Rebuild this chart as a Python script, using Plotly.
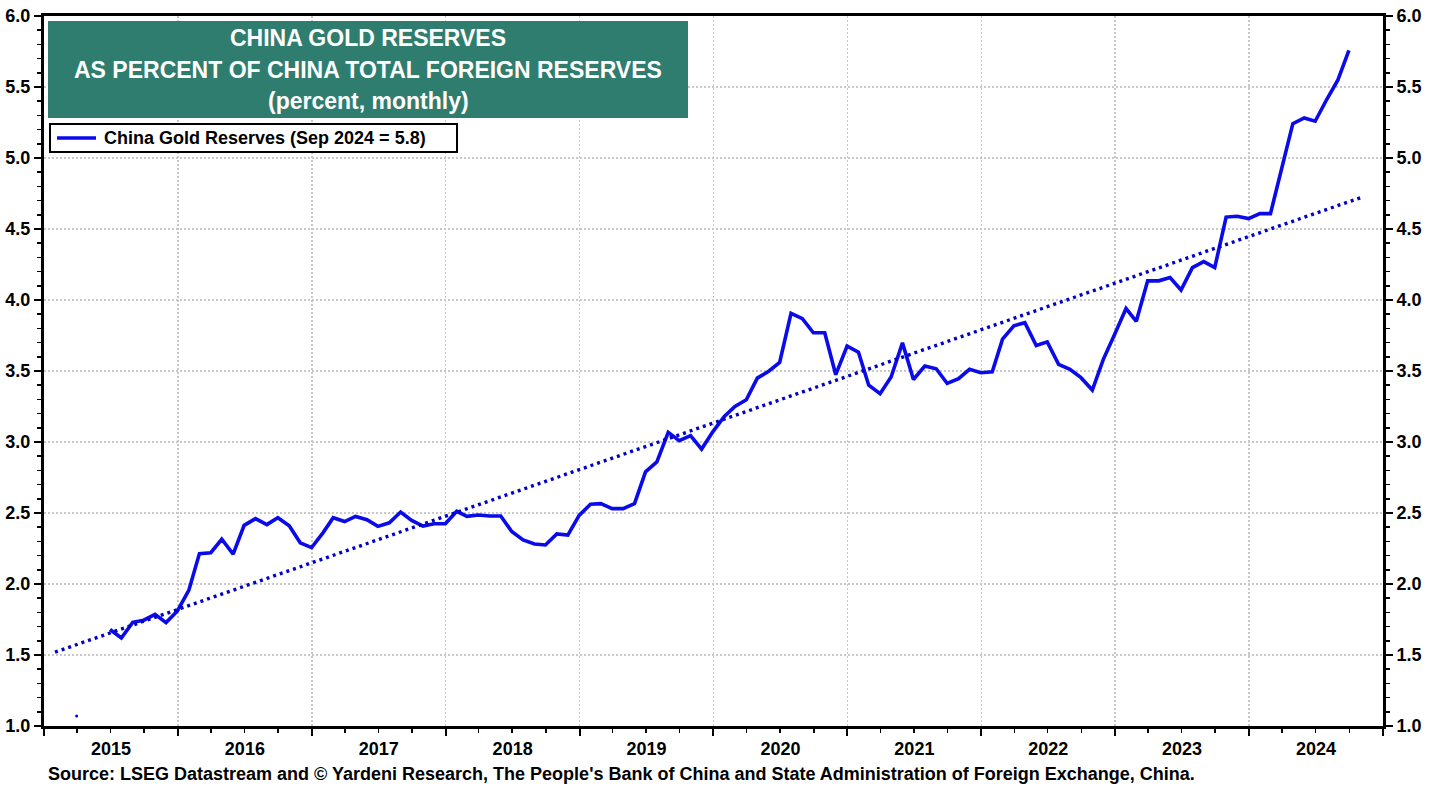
import pandas as pd
import plotly.graph_objects as go

# ---- data ----
series_name = "China Gold Reserves (Sep 2024 = 5.8)"
start_month = "2015-06-30"   # first observation (end of month)
gold_share = [
    # 2015 Jun-Dec
    1.68, 1.62, 1.73, 1.745, 1.786, 1.728, 1.81,
    # 2016
    1.955, 2.214, 2.22, 2.315, 2.21, 2.413, 2.46, 2.418, 2.467, 2.41, 2.29, 2.256,
    # 2017
    2.36, 2.467, 2.44, 2.476, 2.453, 2.406, 2.431, 2.507, 2.448, 2.408, 2.424, 2.424,
    # 2018
    2.512, 2.476, 2.486, 2.479, 2.479, 2.37, 2.31, 2.282, 2.275, 2.353, 2.344, 2.483,
    # 2019
    2.562, 2.566, 2.531, 2.531, 2.566, 2.79, 2.86, 3.068, 3.01, 3.045, 2.95, 3.073,
    # 2020
    3.18, 3.25, 3.297, 3.45, 3.498, 3.56, 3.906, 3.868, 3.769, 3.769, 3.474, 3.675,
    # 2021
    3.632, 3.40, 3.34, 3.458, 3.698, 3.44, 3.535, 3.516, 3.413, 3.446, 3.512, 3.488,
    # 2022
    3.495, 3.724, 3.818, 3.84, 3.68, 3.705, 3.547, 3.512, 3.453, 3.366, 3.582, 3.759,
    # 2023
    3.94, 3.85, 4.135, 4.135, 4.158, 4.07, 4.228, 4.27, 4.228, 4.584, 4.59, 4.573,
    # 2024 Jan-Sep
    4.608, 4.608, 4.943, 5.242, 5.282, 5.259, 5.41, 5.55, 5.758,
]
trend_dates = ["2015-01-31", "2024-10-31"]
trend_values = [1.52, 4.72]
stray_dates = ["2015-03-31"]
stray_values = [1.07]

title_lines = ["CHINA GOLD RESERVES",
               "AS PERCENT OF CHINA TOTAL FOREIGN RESERVES",
               "(percent, monthly)"]
source_text = ("Source: LSEG Datastream and © Yardeni Research, The People's Bank of China "
               "and State Administration of Foreign Exchange, China.")

dates = pd.date_range(start=start_month, periods=len(gold_share), freq="ME")

FONT = "Liberation Sans, Arial, sans-serif"
LINE_COLOR = "#0a0aeb"
W, H = 1439, 789
ML, MR, MT, MB = 44, 56, 16, 63
PW, PH = W - ML - MR, H - MT - MB


def px_x(p):
    return (p - ML) / PW


def px_y(p):
    return (H - MB - p) / PH


fig = go.Figure()
fig.add_trace(go.Scatter(
    x=trend_dates, y=trend_values, mode="lines",
    line=dict(color="#0000c8", width=3.4, dash="3px,4px"),
    showlegend=False, hoverinfo="skip", yaxis="y2"))
fig.add_trace(go.Scatter(
    x=stray_dates, y=stray_values, mode="markers",
    marker=dict(color="#0000c8", size=3),
    showlegend=False, hoverinfo="skip"))
fig.add_trace(go.Scatter(
    x=dates, y=gold_share, mode="lines", name=series_name,
    line=dict(color=LINE_COLOR, width=3.6), showlegend=False))

grid = dict(showgrid=True, gridcolor="#c8c8c8", griddash="2px,2px", gridwidth=1.5)
yticks = dict(range=[1, 6], tick0=1, dtick=0.5, tickformat=".1f",
              ticks="outside", ticklen=7, tickwidth=2, tickcolor="black",
              minor=dict(dtick=0.1, tick0=1, ticks="outside", ticklen=4,
                         tickwidth=1.5, tickcolor="black", showgrid=False),
              showline=True, linewidth=3, linecolor="black", zeroline=False,
              tickfont=dict(family=FONT, size=18, color="black"),
              tickprefix="<b>", ticksuffix="</b>",
              automargin=False, fixedrange=True)

fig.update_layout(
    width=W, height=H,
    margin=dict(l=ML, r=MR, t=MT, b=MB, pad=0, autoexpand=False),
    paper_bgcolor="white", plot_bgcolor="white",
    font=dict(family=FONT, color="black"),
    xaxis=dict(type="date", range=["2015-01-01", "2025-01-01"],
               tick0="2015-01-01", dtick="M12", tickformat="<b>%Y</b>",
               ticklabelmode="period", ticklabelstandoff=-3,
               ticks="outside", ticklen=7, tickwidth=2, tickcolor="black",
               minor=dict(dtick="M3", tick0="2015-01-01", ticks="outside",
                          ticklen=4, tickwidth=1.5, tickcolor="black",
                          showgrid=False),
               showline=True, linewidth=3, linecolor="black", mirror=True,
               zeroline=False, automargin=False, fixedrange=True,
               tickfont=dict(family=FONT, size=18, color="black"),
               **grid),
    yaxis=dict(side="left", **yticks, **grid),
    yaxis2=dict(side="right", overlaying="y", showgrid=False, **yticks),
    showlegend=False,
)

# title box
fig.add_shape(type="rect", xref="paper", yref="paper",
              x0=px_x(48), x1=px_x(688), y0=px_y(118), y1=px_y(21),
              fillcolor="#2f7d6e", line=dict(width=0), layer="above")
for line_text, ypix in zip(title_lines, [38, 70, 101]):
    fig.add_annotation(xref="paper", yref="paper", x=px_x(368), y=px_y(ypix),
                       text="<b>" + line_text + "</b>", showarrow=False,
                       xanchor="center", yanchor="middle",
                       font=dict(family=FONT, size=23, color="white"))

# legend box (drawn to match the reference layout)
fig.add_shape(type="rect", xref="paper", yref="paper",
              x0=px_x(50), x1=px_x(457), y0=px_y(152), y1=px_y(124),
              fillcolor="white", line=dict(color="black", width=2), layer="above")
fig.add_shape(type="line", xref="paper", yref="paper",
              x0=px_x(57), x1=px_x(96), y0=px_y(138), y1=px_y(138),
              line=dict(color=LINE_COLOR, width=3.6), layer="above")
fig.add_annotation(xref="paper", yref="paper", x=px_x(102), y=px_y(138),
                   text="<b>" + series_name + "</b>", showarrow=False,
                   xanchor="left", yanchor="middle",
                   font=dict(family=FONT, size=18, color="black"))

# source line
fig.add_annotation(xref="paper", yref="paper", x=px_x(46), y=px_y(774),
                   text="<b>" + source_text + "</b>", showarrow=False,
                   xanchor="left", yanchor="middle",
                   font=dict(family=FONT, size=18, color="black"))

fig.write_html("out.html",
               config={"displayModeBar": False, "staticPlot": True},
               post_script="document.body.style.margin='0';"
                           "document.body.style.overflow='hidden';")
